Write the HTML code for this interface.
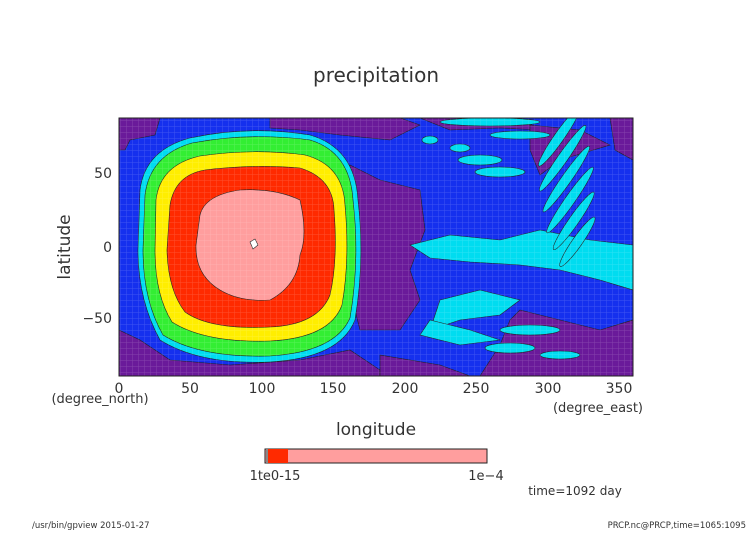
<!DOCTYPE html>
<html><head><style>
body{margin:0;background:#fff;}
svg text{font-family:"DejaVu Sans","Liberation Sans",sans-serif;fill:#333;}
</style></head><body>
<svg width="752" height="532" viewBox="0 0 752 532" xmlns="http://www.w3.org/2000/svg">
<defs>
<pattern id="grid" width="6" height="6" patternUnits="userSpaceOnUse">
<path d="M0 0V6M0 0H6" stroke="#ffffff" stroke-opacity="0.18" stroke-width="1"/>
</pattern>
<clipPath id="pc"><rect x="119" y="118" width="514" height="258"/></clipPath>
</defs>
<text x="376" y="82" font-size="20" text-anchor="middle">precipitation</text>
<g clip-path="url(#pc)" stroke="#222" stroke-width="0.6">
<rect x="119" y="118" width="514" height="258" fill="#1530ee" stroke="none"/>
<!-- purple patches -->
<path d="M119 118H160L155 135L130 140L125 150L119 150Z" fill="#6a1a9a"/>
<path d="M270 118H400L420 125L390 140L340 135L300 130L270 128Z" fill="#6a1a9a"/>
<path d="M350 165L380 180L420 190L425 230L410 270L420 300L400 330L360 330L350 290L355 250L345 200Z" fill="#6a1a9a"/>
<path d="M420 118H520L540 130L500 128L450 130Z" fill="#6a1a9a"/>
<path d="M530 125L580 130L610 145L560 160L540 175L530 150Z" fill="#6a1a9a"/>
<path d="M610 118H633V160L615 150Z" fill="#6a1a9a"/>
<path d="M119 330L140 340L170 360L230 365L300 360L350 350L380 370L380 376H119Z" fill="#6a1a9a"/>
<path d="M520 310L560 320L600 330L633 320V376H480L500 345L510 320Z" fill="#6a1a9a"/>
<path d="M380 355L440 365L470 376H380Z" fill="#6a1a9a"/>
<!-- cyan streaks -->
<g fill="#00dcf0">
<path d="M410 245L450 235L500 240L540 230L590 240L633 245V290L600 280L560 270L520 265L470 262L430 258Z"/>
<path d="M440 300L480 290L520 300L500 315L460 320L430 330Z"/>
<path d="M430 320L470 330L500 340L460 345L420 335Z"/>
<ellipse cx="530" cy="330" rx="30" ry="5"/>
<ellipse cx="510" cy="348" rx="25" ry="5"/>
<ellipse cx="560" cy="355" rx="20" ry="4"/>
<ellipse cx="490" cy="122" rx="50" ry="4"/>
<ellipse cx="520" cy="135" rx="30" ry="4"/>
<ellipse cx="480" cy="160" rx="22" ry="5"/>
<ellipse cx="500" cy="172" rx="25" ry="5"/>
<ellipse cx="460" cy="148" rx="10" ry="4"/>
<ellipse cx="430" cy="140" rx="8" ry="4"/>
<g transform="rotate(-55 570 200)">
<ellipse cx="570" cy="200" rx="40" ry="5"/>
<ellipse cx="585" cy="185" rx="40" ry="5"/>
<ellipse cx="600" cy="170" rx="40" ry="5"/>
<ellipse cx="555" cy="215" rx="35" ry="5"/>
<ellipse cx="540" cy="230" rx="30" ry="5"/>
<ellipse cx="615" cy="155" rx="35" ry="5"/>
</g>
</g>
<!-- central rings -->
<path d="M140 190Q145 150 190 138Q250 125 310 135Q355 148 358 200Q365 260 355 320Q340 358 270 362Q200 365 160 340Q138 300 138 250Z" fill="#00dcf0"/>
<path d="M145 195Q150 155 192 143Q250 132 310 140Q350 152 353 200Q360 260 350 318Q335 352 270 356Q200 358 163 335Q143 300 143 250Z" fill="#33ee33"/>
<path d="M156 200Q160 165 200 156Q255 148 305 155Q343 165 345 205Q350 260 342 305Q330 338 270 341Q205 343 172 322Q155 295 155 250Z" fill="#ffee00"/>
<path d="M170 205Q175 175 205 170Q255 164 300 168Q333 178 334 210Q338 260 330 295Q318 325 270 327Q210 330 185 312Q168 290 167 250Z" fill="#ff2a00"/>
<path d="M200 215Q205 195 240 190Q275 188 300 200Q308 235 300 255Q298 285 270 300Q240 302 220 290Q195 275 196 245Z" fill="#ff9e9e"/>
<path d="M250 242L255 239L258 245L253 249Z" fill="#fff"/>
<rect x="119" y="118" width="514" height="258" fill="url(#grid)" stroke="none"/>
</g>
<rect x="119" y="118" width="514" height="258" fill="none" stroke="#222" stroke-width="1"/>
<g font-size="14">
<text x="119" y="393" text-anchor="middle">0</text>
<text x="190" y="393" text-anchor="middle">50</text>
<text x="262" y="393" text-anchor="middle">100</text>
<text x="333" y="393" text-anchor="middle">150</text>
<text x="405" y="393" text-anchor="middle">200</text>
<text x="476" y="393" text-anchor="middle">250</text>
<text x="548" y="393" text-anchor="middle">300</text>
<text x="619" y="393" text-anchor="middle">350</text>
<text x="112" y="178" text-anchor="end">50</text>
<text x="112" y="252" text-anchor="end">0</text>
<text x="112" y="323" text-anchor="end">−50</text>
</g>
<text x="100" y="403" font-size="13" text-anchor="middle">(degree_north)</text>
<text x="598" y="412" font-size="13" text-anchor="middle">(degree_east)</text>
<text x="376" y="435" font-size="17" text-anchor="middle">longitude</text>
<text x="70" y="247" font-size="17" text-anchor="middle" transform="rotate(-90 70 247)">latitude</text>
<rect x="265" y="449" width="222" height="14" fill="#ff9e9e" stroke="#222"/>
<rect x="268" y="449" width="20" height="14" fill="#ff2a00"/>
<rect x="266" y="449" width="2" height="14" fill="#888"/>
<text x="275" y="480" font-size="13" text-anchor="middle">1te0-15</text>
<text x="486" y="480" font-size="13" text-anchor="middle">1e−4</text>
<text x="575" y="495" font-size="12" text-anchor="middle" fill="#555">time=1092 day</text>
<text x="32" y="528" font-size="8.5">/usr/bin/gpview  2015-01-27</text>
<text x="746" y="528" font-size="8.5" text-anchor="end">PRCP.nc@PRCP,time=1065:1095</text>
</svg>
</body></html>
